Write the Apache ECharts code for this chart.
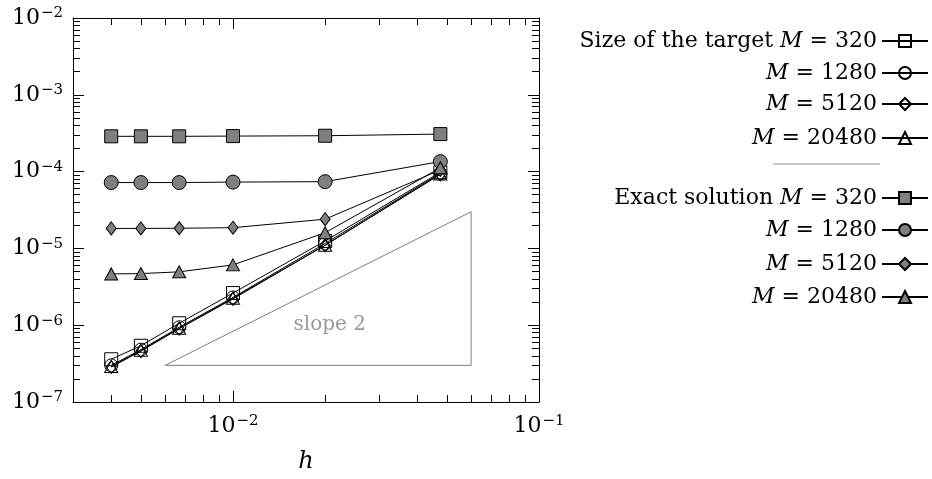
<!DOCTYPE html>
<html>
<head>
<meta charset="utf-8">
<script src="https://cdn.jsdelivr.net/npm/echarts@6/dist/echarts.min.js"></script>
<style>
  html, body { margin: 0; padding: 0; background: #fff; }
  #chart { width: 932px; height: 479px; }
</style>
</head>
<body>
<div id="chart"></div>
<script>
// step sizes h
const hValues = [0.004, 0.005, 0.00667, 0.01, 0.02, 0.0476]

// error, size of the target
const target320 = [3.6e-7, 5.4e-7, 1.06e-6, 2.62e-6, 1.25e-5, 9.8e-5]
const target1280 = [3.0e-7, 4.8e-7, 9.4e-7, 2.3e-6, 1.16e-5, 9.5e-5]
const target5120 = [2.85e-7, 4.6e-7, 9.0e-7, 2.2e-6, 1.1e-5, 9.2e-5]
const target20480 = [2.9e-7, 4.7e-7, 9.1e-7, 2.25e-6, 1.1e-5, 9.3e-5]

// error, exact solution
const exact320 = [2.88e-4, 2.88e-4, 2.88e-4, 2.9e-4, 2.93e-4, 3.08e-4]
const exact1280 = [7.2e-5, 7.2e-5, 7.2e-5, 7.3e-5, 7.4e-5, 1.35e-4]
const exact5120 = [1.82e-5, 1.82e-5, 1.83e-5, 1.86e-5, 2.4e-5, 1.05e-4]
const exact20480 = [4.65e-6, 4.7e-6, 4.95e-6, 6.1e-6, 1.6e-5, 1.12e-4]

// slope triangle
const slopeX = [0.006, 0.06, 0.06, 0.006]
const slopeY = [3e-7, 3e-7, 3e-5, 3e-7]
const slopeLabelAt = [0.0207, 1.0e-6]

// axis ticks
const xRange = [0.003, 0.1]
const yRange = [1e-7, 1e-2]
const xMajor = [0.01, 0.1]
const xMinor = [0.004, 0.005, 0.006, 0.007, 0.008, 0.009, 0.02, 0.03, 0.04, 0.05, 0.06, 0.07, 0.08, 0.09]
const yMajor = [1e-7, 1e-6, 1e-5, 1e-4, 1e-3, 1e-2]
const yMinor = []
for (let e = -7; e < -2; e++) {
  for (let k = 2; k <= 9; k++) yMinor.push(k * Math.pow(10, e))
}

const FONT = 'DejaVu Serif'
const lg = Math.log10
const toPts = (ys) => hValues.map((h, i) => [lg(h), lg(ys[i])])

const labelNames = {
  t320: 'Size of the target {i|M} = 320',
  t1280: '{i|M} = 1280',
  t5120: '{i|M} = 5120',
  t20480: '{i|M} = 20480',
  e320: 'Exact solution {i|M} = 320',
  e1280: '{i|M} = 1280',
  e5120: '{i|M} = 5120',
  e20480: '{i|M} = 20480'
}

const makeSeries = (name, ys, symbol, size, filled) => ({
  name,
  type: 'line',
  data: toPts(ys),
  symbol,
  symbolSize: size,
  showAllSymbol: true,
  lineStyle: { color: '#000', width: 1 },
  itemStyle: { color: filled ? '#7f7f7f' : 'transparent', borderColor: '#000', borderWidth: 1 },
  emphasis: { disabled: true },
  z: filled ? 3 : 2
})

const chart = echarts.init(document.getElementById('chart'))

const supLabel = (v) => '{b|10}{s|\u2212' + Math.round(-v) + '}'
const labelRich = {
  b: { fontFamily: FONT, fontSize: 22, color: '#000' },
  s: { fontFamily: FONT, fontSize: 15, color: '#000', verticalAlign: 'top', padding: [0, 0, 9, 1] }
}

const axisBase = (extra) => Object.assign({
  type: 'value',
  splitLine: { show: false },
  axisLine: { show: true, onZero: false, lineStyle: { color: '#000', width: 1 } },
  axisLabel: { show: false }
}, extra)

const xAxes = []
const yAxes = []
for (const pos of ['bottom', 'top']) {
  xAxes.push(axisBase({
    position: pos, min: lg(xRange[0]), max: lg(xRange[1]),
    axisTick: { inside: true, length: 11, customValues: xMajor.map(lg), lineStyle: { color: '#000' } },
    axisLabel: pos === 'bottom'
      ? { show: true, customValues: xMajor.map(lg), formatter: supLabel, margin: 12, rich: labelRich }
      : { show: false },
    name: pos === 'bottom' ? 'h' : '',
    nameLocation: 'middle',
    nameGap: 48,
    nameTextStyle: { fontFamily: FONT, fontSize: 24, fontStyle: 'italic', color: '#000' }
  }))
  xAxes.push(axisBase({
    position: pos, min: lg(xRange[0]), max: lg(xRange[1]),
    axisLine: { show: false },
    axisTick: { inside: true, length: 7, customValues: xMinor.map(lg), lineStyle: { color: '#000' } }
  }))
}
for (const pos of ['left', 'right']) {
  yAxes.push(axisBase({
    position: pos, min: lg(yRange[0]), max: lg(yRange[1]),
    axisTick: { inside: true, length: 11, customValues: yMajor.map(lg), lineStyle: { color: '#000' } },
    axisLabel: pos === 'left'
      ? { show: true, customValues: yMajor.map(lg), formatter: supLabel, margin: 10, rich: labelRich }
      : { show: false }
  }))
  yAxes.push(axisBase({
    position: pos, min: lg(yRange[0]), max: lg(yRange[1]),
    axisLine: { show: false },
    axisTick: { inside: true, length: 7, customValues: yMinor.map(lg), lineStyle: { color: '#000' } }
  }))
}

const legendNames = ['t320', 't1280', 't5120', 't20480', 'e320', 'e1280', 'e5120', 'e20480']
const legendRowTop = [30, 62, 93, 127, 187, 219, 253, 286]
const legends = legendNames.map((n, i) => ({
  data: [n],
  right: 3,
  top: legendRowTop[i],
  padding: 0,
  align: 'right',
  orient: 'horizontal',
  itemWidth: 46,
  itemHeight: 15,
  selectedMode: false,
  formatter: (name) => labelNames[name],
  textStyle: {
    fontFamily: FONT, fontSize: 22, color: '#000',
    rich: { i: { fontFamily: FONT, fontSize: 22, fontStyle: 'italic', color: '#000' } }
  }
}))

const option = {
  animation: false,
  backgroundColor: '#fff',
  grid: { left: 73, right: 393, top: 18, bottom: 74 },
  xAxis: xAxes,
  yAxis: yAxes,
  legend: legends,
  graphic: [{
    type: 'line',
    shape: { x1: 773, y1: 164, x2: 880, y2: 164 },
    style: { stroke: '#999', lineWidth: 1 }
  }],
  series: [
    makeSeries('t320', target320, 'rect', 13, false),
    makeSeries('t1280', target1280, 'circle', 13, false),
    makeSeries('t5120', target5120, 'diamond', [10, 13], false),
    makeSeries('t20480', target20480, 'triangle', [13, 12], false),
    makeSeries('e320', exact320, 'rect', 13, true),
    makeSeries('e1280', exact1280, 'circle', 14, true),
    makeSeries('e5120', exact5120, 'diamond', [10, 13], true),
    makeSeries('e20480', exact20480, 'triangle', [13, 12], true),
    {
      name: 'slope',
      type: 'line',
      data: slopeX.map((x, i) => [lg(x), lg(slopeY[i])]),
      symbol: 'none',
      lineStyle: { color: '#7f7f7f', width: 1 },
      emphasis: { disabled: true },
      z: 1
    },
    {
      name: 'slopeLabel',
      type: 'scatter',
      data: [[lg(slopeLabelAt[0]), lg(slopeLabelAt[1])]],
      symbolSize: 0,
      label: {
        show: true, position: 'inside', formatter: 'slope 2',
        fontFamily: FONT, fontSize: 20, color: '#7f7f7f'
      },
      emphasis: { disabled: true },
      z: 1
    }
  ]
}
option && chart.setOption(option)
</script>
</body>
</html>
